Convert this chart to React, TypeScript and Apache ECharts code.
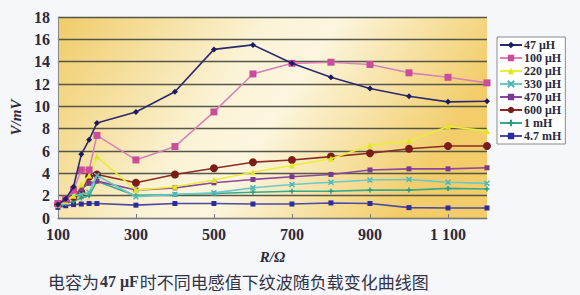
import React, { useEffect, useRef } from "react";
import * as echarts from "echarts";

const seriesNames = ["47 μH", "100 μH", "220 μH", "330 μH", "470 μH", "600 μH", "1 mH", "4.7 mH"];
const rValues = [100, 120, 140, 160, 180, 200, 300, 400, 500, 600, 700, 800, 900, 1000, 1100, 1200];

const v47uH = [1.2, 1.7, 2.8, 5.7, 7.0, 8.5, 9.5, 11.3, 15.1, 15.5, 13.85, 12.6, 11.6, 10.9, 10.4, 10.45];
const v100uH = [1.3, 1.7, 2.5, 4.3, 4.3, 7.4, 5.2, 6.4, 9.5, 12.9, 13.85, 13.95, 13.75, 13.0, 12.6, 12.1];
const v220uH = [1.2, 1.5, 2.0, 3.0, 3.8, 5.5, 2.5, 2.8, 3.4, 4.1, 4.7, 5.3, 6.5, 6.9, 8.2, 7.8];
const v330uH = [1.1, 1.4, 2.0, 2.1, 2.3, 3.8, 1.9, 2.1, 2.25, 2.7, 3.0, 3.2, 3.4, 3.45, 3.2, 3.1];
const v470uH = [1.2, 1.6, 2.2, 2.6, 3.1, 3.3, 2.5, 2.7, 3.15, 3.45, 3.7, 3.9, 4.3, 4.4, 4.4, 4.5];
const v600uH = [1.2, 1.6, 1.9, 2.3, 3.7, 3.9, 3.15, 3.9, 4.45, 5.0, 5.2, 5.5, 5.8, 6.2, 6.45, 6.45];
const v1mH = [1.0, 1.3, 1.5, 1.8, 2.0, 3.3, 2.0, 2.1, 2.2, 2.3, 2.4, 2.4, 2.5, 2.5, 2.65, 2.6];
const v47mH = [0.95, 1.1, 1.2, 1.25, 1.3, 1.3, 1.15, 1.3, 1.3, 1.25, 1.25, 1.35, 1.3, 0.93, 0.9, 0.9];

const yTicks = [0, 2, 4, 6, 8, 10, 12, 14, 16, 18];
const captionPre = "电容为";
const captionBold = "47 μF";
const captionPost = "时不同电感值下纹波随负载变化曲线图";

const allValues = [v47uH, v100uH, v220uH, v330uH, v470uH, v600uH, v1mH, v47mH];

const styles = [
  { line: "#2b2a6e", mark: "#1d1b5e", symbol: "diamond", size: 6 },
  { line: "#d684b8", mark: "#cc4c9c", symbol: "rect", size: 7 },
  { line: "#eaee3a", mark: "#dfe520", symbol: "triangle", size: 6 },
  { line: "#6cc8c8", mark: "#4cb6b8", symbol: "path://M0,0L10,10M10,0L0,10Z", size: 5 },
  { line: "#8a4a9c", mark: "#7a3a90", symbol: "rect", size: 5 },
  { line: "#8a2c24", mark: "#7a1c18", symbol: "circle", size: 8 },
  { line: "#3aa88c", mark: "#2a9c80", symbol: "path://M5,0L5,10M0,5L10,5", size: 5 },
  { line: "#4a48a8", mark: "#2c2c9c", symbol: "rect", size: 5 },
];

export default function App() {
  const ref = useRef<HTMLDivElement>(null);
  useEffect(() => {
    if (!ref.current) return;
    const chart = echarts.init(ref.current, undefined, { renderer: "svg" });
    const serif = "'Liberation Serif', 'DejaVu Serif', serif";
    chart.setOption({
      animation: false,
      backgroundColor: "#f5f7fb",
      grid: {
        left: 52,
        top: 17,
        right: 93,
        bottom: 77,
        show: true,
        borderWidth: 0,
        backgroundColor: {
          type: "linear",
          x: 0,
          y: 0,
          x2: 1,
          y2: 0.3,
          colorStops: [
            { offset: 0, color: "#f0cc68" },
            { offset: 0.45, color: "#fbf3d6" },
            { offset: 0.6, color: "#fcf6de" },
            { offset: 1, color: "#f2cd6a" },
          ],
        },
      },
      legend: {
        orient: "vertical",
        left: 497,
        top: 37,
        itemGap: 1,
        itemWidth: 22,
        itemHeight: 8,
        padding: [2, 4, 2, 2],
        backgroundColor: "#ffffff",
        borderColor: "#8a8a8a",
        borderWidth: 1,
        textStyle: { fontFamily: serif, fontWeight: "bold", fontSize: 12, color: "#2a2a3a", padding: [0, 0, 0, -3] },
        data: seriesNames,
      },
      xAxis: {
        type: "value",
        min: 100,
        max: 1200,
        interval: 200,
        name: "R/Ω",
        nameLocation: "middle",
        nameGap: 31,
        nameTextStyle: { fontFamily: serif, fontWeight: "bold", fontStyle: "italic", fontSize: 15, color: "#2a2a3a" },
        axisLine: { show: true, lineStyle: { color: "#7a7a7a", width: 1 } },
        axisTick: { show: true, inside: true, length: 4, lineStyle: { color: "#7a7a7a" } },
        axisLabel: {
          showMaxLabel: false,
          margin: 8,
          fontFamily: serif,
          fontWeight: "bold",
          fontSize: 16,
          color: "#2a2a3a",
          formatter: (v: number) => (v >= 1000 ? String(v).replace(/^(\d)(\d{3})$/, "$1 $2") : String(v)),
        },
        splitLine: { show: false },
      },
      yAxis: {
        type: "value",
        min: 0,
        max: 18,
        interval: 2,
        name: "V/mV",
        nameLocation: "middle",
        nameGap: 31,
        nameRotate: 90,
        nameTextStyle: { fontFamily: serif, fontWeight: "bold", fontStyle: "italic", fontSize: 15, color: "#2a2a3a" },
        axisLine: { show: true, lineStyle: { color: "#8a8a8a", width: 1 } },
        axisTick: { show: false },
        axisLabel: {
          margin: 8,
          fontFamily: serif,
          fontWeight: "bold",
          fontSize: 16,
          color: "#2a2a3a",
          formatter: (v: number) => (yTicks.includes(v) ? String(v) : ""),
        },
        splitLine: { show: true, lineStyle: { color: "#55554a", width: 1.3 } },
      },
      graphic: [
        {
          type: "text",
          left: 48,
          top: 273,
          style: {
            text: captionPre + "{b|" + captionBold + "}" + captionPost,
            fontFamily: "'Noto Sans CJK SC', sans-serif",
            fontSize: 17,
            fill: "#333344",
            rich: {
              b: { fontFamily: serif, fontWeight: "bold", fontSize: 16, fill: "#333344", padding: [0, 1, 0, 1] },
            },
          },
        },
      ],
      series: seriesNames.map((name, i) => ({
        name,
        type: "line",
        data: rValues.map((r, k) => [r, allValues[i][k]]),
        symbol: styles[i].symbol,
        symbolSize: styles[i].size,
        showAllSymbol: true,
        lineStyle: { color: styles[i].line, width: 1.6 },
        itemStyle: { color: styles[i].mark, borderColor: styles[i].mark, borderWidth: i === 3 || i === 6 ? 1.5 : 0 },
        z: 10 - i,
      })),
    });
    return () => chart.dispose();
  }, []);
  return <div ref={ref} style={{ width: 580, height: 295, position: "absolute", left: 0, top: 0 }} />;
}
